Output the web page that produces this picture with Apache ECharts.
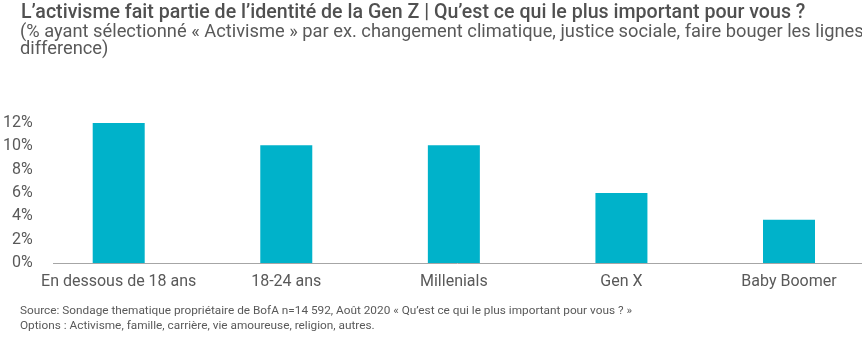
<!DOCTYPE html>
<html><head><meta charset="utf-8">
<script src="https://cdn.jsdelivr.net/npm/echarts@6/dist/echarts.min.js"></script>
<style>html,body{margin:0;padding:0;background:#fff}#c{width:862px;height:340px}</style>
</head><body><div id="c"></div>
<script>
const categories = ['En dessous de 18 ans', '18-24 ans', 'Millenials', 'Gen X', 'Baby Boomer'];
const values = [12.0, 10.1, 10.1, 6.0, 3.7];
const yTicks = [0, 2, 4, 6, 8, 10, 12];

const titleText = 'L\u2019activisme fait partie de l\u2019identité de la Gen Z | Qu\u2019est ce qui le plus important pour vous ?';
const subText = '(% ayant sélectionné « Activisme » par ex. changement climatique, justice sociale, faire bouger les lignes, faire la\ndifference)';
const footText = 'Source: Sondage thematique propriétaire de BofA n=14 592, Août 2020 « Qu\u2019est ce qui le plus important pour vous ? »\nOptions : Activisme, famille, carrière, vie amoureuse, religion, autres.';

const font = "Roboto, sans-serif";
const chart = echarts.init(document.getElementById('c'));
chart.setOption({
  animation: false,
  title: [
    {text: titleText, left: 21, top: 1, padding: 0, textStyle: {fontFamily: font, fontSize: 19.6, fontWeight: 500, color: '#505050', lineHeight: 24}},
    {text: subText, left: 20, top: 23.5, padding: 0, textStyle: {fontFamily: font, fontSize: 18.3, fontWeight: 'normal', color: '#595959', lineHeight: 17.5}},
    {text: footText, left: 20, top: 303.5, padding: 0, textStyle: {fontFamily: font, fontSize: 11.8, fontWeight: 'normal', color: '#595959', lineHeight: 15}}
  ],
  grid: {left: 116, right: 73, top: 123, height: 140},
  xAxis: {
    type: 'category', data: categories, boundaryGap: false,
    axisLine: {show: false}, axisTick: {show: false},
    axisLabel: {interval: 0, fontFamily: font, fontSize: 16, color: '#595959', margin: 11}
  },
  yAxis: {
    type: 'value', min: yTicks[0], max: yTicks[yTicks.length - 1], interval: 2, offset: 84,
    axisLine: {show: false}, axisTick: {show: false},
    splitLine: {show: false},
    axisLabel: {fontFamily: font, fontSize: 16, color: '#595959', formatter: v => v + '%', margin: 2}
  },
  series: [{
    type: 'bar', data: values, barWidth: 52,
    itemStyle: {color: '#00B2CA'}
  }],
  graphic: [{type: 'line', shape: {x1: 53, y1: 263.5, x2: 862, y2: 263.5}, style: {stroke: '#A6A6A6', lineWidth: 1}}]
});
</script></body></html>
